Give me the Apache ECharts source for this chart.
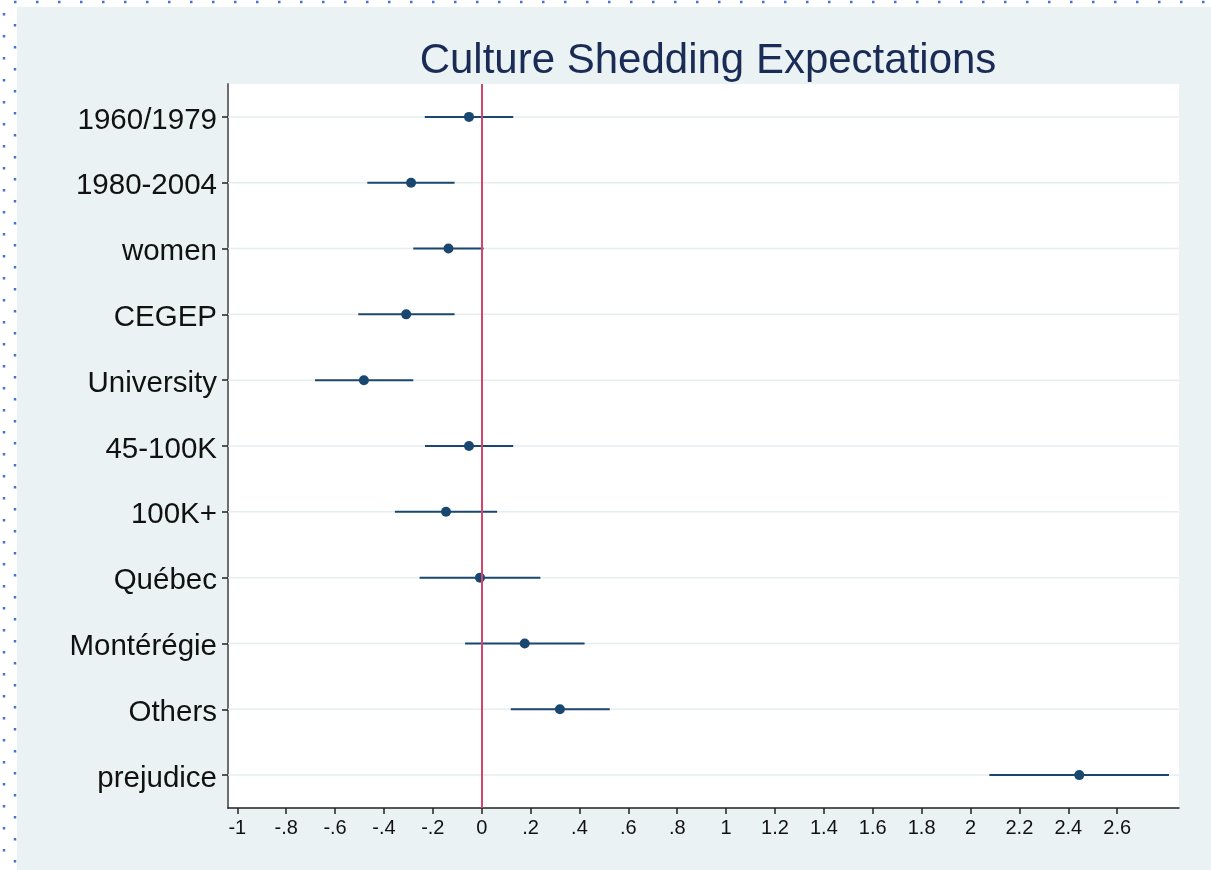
<!DOCTYPE html>
<html>
<head>
<meta charset="utf-8">
<title>Culture Shedding Expectations</title>
<script src="https://cdn.jsdelivr.net/npm/echarts@6/dist/echarts.min.js"></script>
<style>
  html, body { margin: 0; padding: 0; background: #ffffff; }
  #chart { width: 1211px; height: 870px; }
</style>
</head>
<body>
<div id="chart"></div>
<script>
  // coefficient plot data
  var categories = ['1960/1979', '1980-2004', 'women', 'CEGEP', 'University',
    '45-100K', '100K+', 'Québec', 'Montérégie', 'Others', 'prejudice'];
  var coef   = [-0.052, -0.289, -0.136, -0.309, -0.482, -0.052, -0.146, -0.007, 0.176, 0.320, 2.445];
  var ciLow  = [-0.233, -0.468, -0.280, -0.505, -0.682, -0.232, -0.355, -0.254, -0.068, 0.119, 2.077];
  var ciHigh = [ 0.129, -0.111,  0.008, -0.111, -0.280,  0.129,  0.063,  0.240,  0.421, 0.524, 2.812];
  var xTicks = [-1, -0.8, -0.6, -0.4, -0.2, 0, 0.2, 0.4, 0.6, 0.8, 1, 1.2, 1.4, 1.6, 1.8, 2, 2.2, 2.4, 2.6];

  var navy = '#1a476f';
  var font = '"Liberation Sans", Arial, Helvetica, sans-serif';

  // stata style labels: .2 instead of 0.2
  function fmt(v) {
    var s = String(Math.round(v * 10) / 10);
    return s.replace(/^(-?)0\./, '$1.');
  }

  var gridData = categories.map(function (c, i) { return [0, i]; });
  var ciData = categories.map(function (c, i) { return [ciLow[i], i, ciHigh[i]]; });
  var ptData = categories.map(function (c, i) { return [coef[i], i]; });

  // dotted frame round the graph region
  var dot = { stroke: '#4a72c8', lineWidth: 2.5, lineDash: [2.5, 19.5] };

  var chart = echarts.init(document.getElementById('chart'));
  chart.setOption({
    backgroundColor: '#ffffff',
    animation: false,
    graphic: [
      { type: 'rect', z: -10, silent: true, shape: { x: 17, y: 7, width: 1194, height: 863 }, style: { fill: '#eaf2f3' } },
      { type: 'line', silent: true, shape: { x1: 14, y1: 2, x2: 1211, y2: 2 }, style: dot },
      { type: 'line', silent: true, shape: { x1: 4, y1: 13, x2: 4, y2: 870 }, style: dot },
      { type: 'line', silent: true, shape: { x1: 15, y1: 24, x2: 15, y2: 870 }, style: dot }
    ],
    title: {
      text: 'Culture Shedding Expectations',
      left: 703,
      textAlign: 'center',
      top: 35,
      textStyle: { fontFamily: font, fontSize: 42, fontWeight: 'normal', color: '#1a2b56' }
    },
    grid: { left: 228, right: 32, top: 84, bottom: 62, backgroundColor: '#ffffff', show: true, borderWidth: 0 },
    xAxis: {
      type: 'value',
      min: -1.038,
      max: 2.853,
      axisLine: { show: true, lineStyle: { color: '#222222', width: 1.5 } },
      axisTick: { show: true, length: 6, customValues: xTicks, lineStyle: { color: '#222222', width: 1.5 } },
      axisLabel: { customValues: xTicks, formatter: fmt, margin: 10, fontFamily: font, fontSize: 20, color: '#111111' },
      splitLine: { show: false }
    },
    yAxis: {
      type: 'category',
      data: categories,
      inverse: true,
      axisLine: { show: true, onZero: false, lineStyle: { color: '#6e6e6e', width: 2 } },
      axisTick: { show: true, alignWithLabel: true, length: 6, lineStyle: { color: '#222222', width: 1.5 } },
      axisLabel: {
        margin: 11,
        formatter: function (v) { return '{t|' + v + '}'; },
        rich: { t: { fontFamily: font, fontSize: 29.5, color: '#111111', padding: [7, 0, 0, 0] } }
      },
      splitLine: { show: false }
    },
    series: [
      {
        // light horizontal grid line at every coefficient row
        type: 'custom',
        z: 1,
        silent: true,
        data: gridData,
        renderItem: function (params, api) {
          var p = api.coord([0, api.value(1)]);
          var cs = params.coordSys;
          return {
            type: 'line',
            shape: { x1: cs.x, y1: p[1], x2: cs.x + cs.width, y2: p[1] },
            style: { stroke: '#e6eef0', lineWidth: 1.5 }
          };
        }
      },
      {
        // confidence intervals
        type: 'custom',
        z: 2,
        data: ciData,
        renderItem: function (params, api) {
          var a = api.coord([api.value(0), api.value(1)]);
          var b = api.coord([api.value(2), api.value(1)]);
          return {
            type: 'line',
            shape: { x1: a[0], y1: a[1], x2: b[0], y2: b[1] },
            style: { stroke: navy, lineWidth: 2 }
          };
        }
      },
      {
        type: 'scatter',
        z: 4,
        symbol: 'circle',
        symbolSize: 10,
        itemStyle: { color: navy, opacity: 1 },
        data: ptData,
        markLine: {
          silent: true,
          symbol: 'none',
          label: { show: false },
          data: [{ xAxis: 0, lineStyle: { color: '#d2466b', width: 2, type: 'solid' } }]
        }
      }
    ]
  });
</script>
</body>
</html>
